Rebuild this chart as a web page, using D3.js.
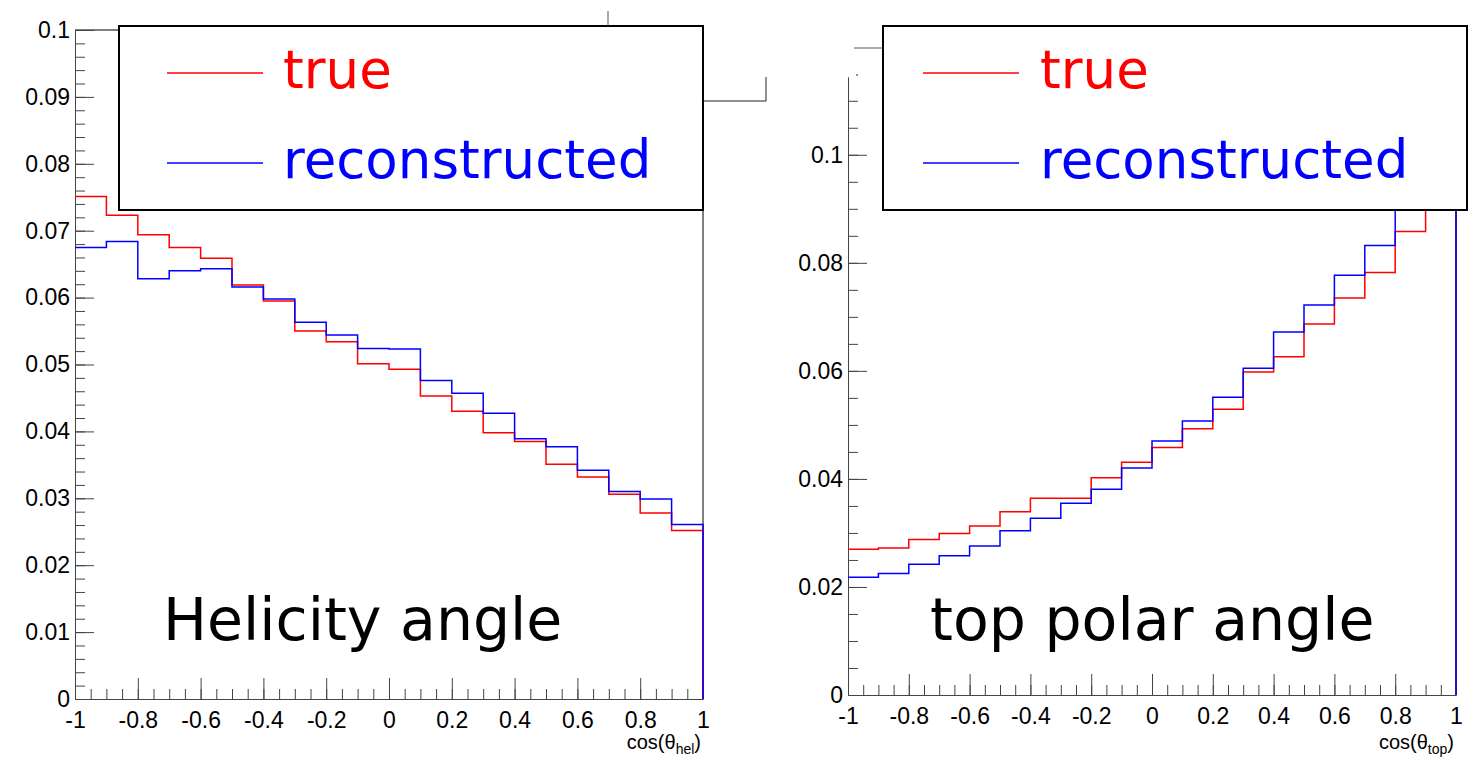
<!DOCTYPE html>
<html lang="en">
	<head>
		<meta charset="utf-8">
		<title>helicity and top polar angle</title>
		<style>
			body {
				margin: 0;
				background-color: #ffffff;
			}
			path.hist {
				fill: none;
				stroke-width: 1.5px;
			}
			.axis path,
			.axis line {
				fill: none;
				stroke: #444;
				stroke-width: 1px;
			}
			.axis text {
				font-family: "Liberation Sans", Arial, sans-serif;
				font-size: 23px;
				fill: black;
			}
			text.big {
				font-family: "DejaVu Sans", sans-serif;
				font-size: 58.5px;
			}
			text.leg {
				font-family: "DejaVu Sans", sans-serif;
				font-size: 53px;
			}
			text.xTitle {
				font-family: "Liberation Sans", Arial, sans-serif;
				font-size: 20px;
			}
		</style>
	</head>
	<body>
		<script type="text/javascript" src="https://cdnjs.cloudflare.com/ajax/libs/d3/7.8.5/d3.min.js"></script>
		<script type="text/javascript">

			// bin edges, 20 bins in cos(theta)
			var binEdges = [-1, -0.9, -0.8, -0.7, -0.6, -0.5, -0.4, -0.3, -0.2, -0.1, 0,
							0.1, 0.2, 0.3, 0.4, 0.5, 0.6, 0.7, 0.8, 0.9, 1];

			// helicity angle
			var helTrue = [0.0751, 0.0723, 0.0694, 0.0675, 0.0659, 0.0619, 0.0595, 0.0550, 0.0534, 0.0501,
						   0.0493, 0.0453, 0.0430, 0.0398, 0.0385, 0.0351, 0.0332, 0.0306, 0.0278, 0.0252];
			var helReco = [0.0675, 0.0684, 0.0628, 0.0640, 0.0643, 0.0616, 0.0598, 0.0563, 0.0544, 0.0524,
						   0.0523, 0.0476, 0.0457, 0.0427, 0.0389, 0.0377, 0.0342, 0.0310, 0.0299, 0.0261];

			// top polar angle
			var topTrue = [0.0270, 0.0272, 0.0288, 0.0299, 0.0313, 0.0339, 0.0364, 0.0364, 0.0402, 0.0431,
						   0.0458, 0.0493, 0.0529, 0.0598, 0.0626, 0.0687, 0.0735, 0.0782, 0.0858, 0.1030];
			var topReco = [0.0218, 0.0225, 0.0242, 0.0258, 0.0276, 0.0304, 0.0327, 0.0355, 0.0381, 0.0420,
						   0.0470, 0.0507, 0.0551, 0.0605, 0.0672, 0.0722, 0.0777, 0.0832, 0.0920, 0.1090];

			var xTicks = [-1, -0.8, -0.6, -0.4, -0.2, 0, 0.2, 0.4, 0.6, 0.8, 1];
			var helYTicks = [0, 0.01, 0.02, 0.03, 0.04, 0.05, 0.06, 0.07, 0.08, 0.09, 0.1];
			var topYTicks = [0, 0.02, 0.04, 0.06, 0.08, 0.1];

			var seriesNames = ["true", "reconstructed"];
			var seriesColors = ["#ff0000", "#0000ff"];

			var svg = d3.select("body")
						.append("svg")
						.attr("width", 1470)
						.attr("height", 759);

			// plain hyphen minus, like the original plot
			function fmt(d) {
				return String(+d.toFixed(3));
			}

			function drawPanel(p) {
				var xScale = d3.scaleLinear().domain([-1, 1]).range([p.left, p.right]);
				var yScale = d3.scaleLinear().domain([0, p.ymax]).range([p.bottom, p.top]);

				// frame
				svg.append("line")
					.attr("x1", p.right).attr("x2", p.right)
					.attr("y1", p.top).attr("y2", p.bottom)
					.attr("stroke", "black");
				if (p.frameTop) {
					svg.append("line")
						.attr("x1", p.left).attr("x2", p.right)
						.attr("y1", p.top).attr("y2", p.top)
						.attr("stroke", "black");
				}

				// minor ticks
				svg.append("g")
					.attr("class", "x axis")
					.attr("transform", "translate(0," + p.bottom + ")")
					.call(d3.axisBottom(xScale)
						.tickValues(d3.range(-20, 21, 1).map(function(i) { return i * 0.05; }))
						.tickSizeInner(-10).tickSizeOuter(0).tickFormat(""));

				svg.append("g")
					.attr("class", "y axis")
					.attr("transform", "translate(" + p.left + ",0)")
					.call(d3.axisLeft(yScale)
						.tickValues(d3.range(0, Math.floor(p.ymax / p.yminor + 1e-6) + 1)
							.map(function(i) { return i * p.yminor; }))
						.tickSizeInner(-10).tickSizeOuter(0).tickFormat(""));

				// major ticks + labels
				svg.append("g")
					.attr("class", "x axis")
					.attr("transform", "translate(0," + p.bottom + ")")
					.call(d3.axisBottom(xScale)
						.tickValues(xTicks)
						.tickSizeInner(-21).tickSizeOuter(0).tickPadding(13)
						.tickFormat(fmt));

				svg.append("g")
					.attr("class", "y axis")
					.attr("transform", "translate(" + p.left + ",0)")
					.call(d3.axisLeft(yScale)
						.tickValues(p.yTicks)
						.tickSizeInner(-19).tickSizeOuter(0).tickPadding(5)
						.tickFormat(fmt));

				svg.selectAll(".axis").attr("font-size", null).attr("font-family", null);
				svg.selectAll(".axis .domain").attr("stroke", "#444");
				svg.selectAll(".axis .tick line").attr("stroke", "#444");

				// histograms, drawn as steps
				var line = d3.line()
					.curve(d3.curveStepAfter)
					.x(function(d) { return xScale(d[0]); })
					.y(function(d) { return yScale(d[1]); });

				p.series.forEach(function(vals, i) {
					var pts = vals.map(function(v, j) { return [binEdges[j], v]; });
					pts.push([binEdges[binEdges.length - 1], 0]);
					svg.append("path")
						.attr("class", "hist")
						.attr("stroke", seriesColors[i])
						.attr("d", line(pts));
				});

				// label inside
				svg.append("text")
					.attr("class", "big")
					.attr("x", p.labelX)
					.attr("y", 640)
					.text(p.label);

				// x title
				var t = svg.append("text")
					.attr("class", "xTitle")
					.attr("x", p.right - 2)
					.attr("y", 749)
					.attr("text-anchor", "end");
				t.append("tspan").text("cos(θ");
				t.append("tspan").attr("font-size", "14px").attr("dy", 5).text(p.sub);
				t.append("tspan").attr("dy", -5).text(")");

				// legend
				svg.append("rect")
					.attr("x", p.legX)
					.attr("y", 26)
					.attr("width", 584)
					.attr("height", 184)
					.attr("fill", "white")
					.attr("stroke", "black")
					.attr("stroke-width", 2);

				seriesNames.forEach(function(name, i) {
					var ly = 73 + i * 90;
					svg.append("line")
						.attr("x1", p.legX + p.legLine).attr("x2", p.legX + p.legLine + 96)
						.attr("y1", ly).attr("y2", ly)
						.attr("stroke", seriesColors[i])
						.attr("stroke-width", 1.5);
					svg.append("text")
						.attr("class", "leg")
						.attr("x", p.legX + p.legText)
						.attr("y", ly + 15)
						.attr("fill", seriesColors[i])
						.text(name);
				});
			}

			drawPanel({
				left: 75, right: 703, top: 30, bottom: 699,
				ymax: 0.1, yminor: 0.002, yTicks: helYTicks, frameTop: true,
				series: [helTrue, helReco],
				label: "Helicity angle", labelX: 163, sub: "hel",
				legX: 119, legLine: 48, legText: 164
			});

			drawPanel({
				left: 848, right: 1456, top: 77, bottom: 695,
				ymax: 0.1144, yminor: 0.005, yTicks: topYTicks, frameTop: false,
				series: [topTrue, topReco],
				label: "top polar angle", labelX: 930, sub: "top",
				legX: 883, legLine: 40, legText: 157
			});

			// pieces of boxes peeking out behind the legends
			svg.append("line")
				.attr("x1", 608).attr("x2", 608).attr("y1", 11).attr("y2", 26)
				.attr("stroke", "#555");
			svg.append("polyline")
				.attr("points", "703,101 766,101 766,77")
				.attr("fill", "none")
				.attr("stroke", "#222");
			svg.append("line")
				.attr("x1", 854).attr("x2", 883).attr("y1", 48).attr("y2", 48)
				.attr("stroke", "#555");
			svg.append("line")
				.attr("x1", 856).attr("x2", 858).attr("y1", 75).attr("y2", 75)
				.attr("stroke", "#222");

		</script>
	</body>
</html>
